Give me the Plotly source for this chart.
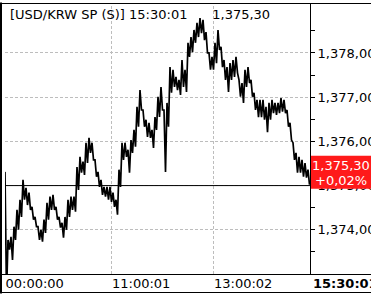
import plotly.graph_objects as go

# ---- data (USD/KRW spot, intraday) ----
# high / low of the price trace in each narrow time slice, left to right
col_high = [1375.31, 1373.77, 1373.84, 1374.07, 1374.45, 1374.68, 1375.13, 1374.95, 1374.84, 1374.52,
            1374.29, 1374.07, 1374.00, 1374.23, 1374.61, 1374.75, 1374.79, 1374.52, 1374.29, 1374.16,
            1374.29, 1374.68, 1374.75, 1374.75, 1375.42, 1375.65, 1375.54, 1375.97, 1376.08, 1375.97,
            1375.58, 1375.31, 1375.13, 1374.97, 1374.97, 1374.97, 1374.84, 1374.68, 1375.36, 1375.97,
            1375.97, 1375.81, 1376.03, 1376.26, 1376.78, 1377.16, 1376.71, 1376.49, 1376.42, 1376.26,
            1376.55, 1377.01, 1377.23, 1376.71, 1376.87, 1377.68, 1377.62, 1377.46, 1377.39, 1377.84,
            1377.62, 1378.23, 1378.36, 1378.52, 1378.68, 1378.79, 1378.75, 1378.47, 1378.00, 1377.91,
            1378.23, 1378.52, 1378.14, 1377.84, 1377.68, 1377.77, 1377.84, 1377.91, 1377.39, 1377.32,
            1377.62, 1377.68, 1377.39, 1377.10, 1376.94, 1376.94, 1376.94, 1376.78, 1376.87, 1376.94,
            1376.87, 1376.87, 1376.98, 1376.94, 1376.71, 1376.42, 1375.97, 1375.74, 1375.65, 1375.58,
            1375.51, 1375.36]
col_low = [1372.50, 1373.55, 1373.32, 1373.77, 1374.00, 1374.29, 1374.68, 1374.56, 1374.45, 1374.23,
           1374.07, 1373.77, 1373.73, 1373.93, 1374.23, 1374.45, 1374.45, 1374.23, 1374.05, 1373.82,
           1374.00, 1374.29, 1374.45, 1374.41, 1374.90, 1375.29, 1375.24, 1375.51, 1375.74, 1375.58,
           1375.20, 1374.97, 1374.79, 1374.75, 1374.68, 1374.63, 1374.52, 1374.34, 1374.97, 1375.58,
           1375.65, 1375.29, 1375.74, 1375.88, 1376.33, 1376.71, 1376.33, 1376.10, 1376.08, 1375.85,
           1376.26, 1376.55, 1376.71, 1375.31, 1376.33, 1377.10, 1377.23, 1377.16, 1377.05, 1377.23,
           1377.12, 1377.91, 1378.02, 1378.23, 1378.36, 1378.45, 1378.29, 1378.00, 1377.62, 1377.62,
           1377.77, 1378.07, 1377.68, 1377.39, 1377.12, 1377.39, 1377.46, 1377.55, 1377.01, 1376.87,
           1377.23, 1377.32, 1377.01, 1376.71, 1376.55, 1376.55, 1376.49, 1376.21, 1376.49, 1376.64,
           1376.60, 1376.64, 1376.67, 1376.64, 1376.33, 1376.03, 1375.58, 1375.29, 1375.29, 1375.20,
           1375.18, 1375.02]

prev_close = 1375.00
last_price = 1375.30
change_pct = 0.02
symbol = "[USD/KRW SP (S)]"
last_time = "15:30:01"
x_tick_index = [0, 71, 139]
x_tick_text = ["00:00:00", "11:00:01", "13:00:02"]
y_tick_vals = [1374, 1375, 1376, 1377, 1378]
y_minor_vals = [1373.5, 1374.5, 1375.5, 1376.5, 1377.5, 1378.5]
y_range = [1373.0, 1379.13]


def krw(v):
    return f"{v:,.2f}".replace(".", ",")


prices = []
for h, l in zip(col_high, col_low):
    prices += [h, l]
idx = list(range(len(prices)))

# ---- geometry ----
W, H = 371, 294
L, R, T, B = 5, 61, 3, 20
PW, PH = W - L - R, H - T - B


def px_x(px):
    return (px - L) / PW


def px_y(py):
    return (H - B - py) / PH


FONT = "DejaVu Sans"
GRID = "#bdbdbd"

fig = go.Figure()
fig.add_trace(go.Scatter(x=idx, y=prices, mode="lines",
                         line=dict(color="black", width=1.7),
                         hoverinfo="skip", showlegend=False))

shapes = []
# vertical dashed grid lines at the time ticks (not at the left edge)
for t in x_tick_index[1:]:
    shapes.append(dict(type="line", xref="x", yref="paper", x0=t, x1=t, y0=0, y1=1,
                       line=dict(color=GRID, width=1, dash="3px,2px"), layer="below"))
# previous close reference line
shapes.append(dict(type="line", xref="paper", yref="y", x0=0, x1=1, y0=prev_close, y1=prev_close,
                   line=dict(color="black", width=1)))
# frame lines
blk = dict(color="black", width=1)
shapes += [
    dict(type="line", xref="paper", yref="paper", x0=px_x(1), x1=px_x(1), y0=px_y(2.5), y1=px_y(293.5),
         line=dict(color="black", width=2)),
    dict(type="line", xref="paper", yref="paper", x0=px_x(0), x1=px_x(372), y0=px_y(3.5), y1=px_y(3.5), line=blk),
    dict(type="line", xref="paper", yref="paper", x0=px_x(0), x1=px_x(372), y0=px_y(274.5), y1=px_y(274.5), line=blk),
    dict(type="line", xref="paper", yref="paper", x0=px_x(0), x1=px_x(372), y0=px_y(292.5), y1=px_y(292.5), line=blk),
    dict(type="line", xref="paper", yref="paper", x0=px_x(310.5), x1=px_x(310.5), y0=px_y(3), y1=px_y(274.5), line=blk),
]
# red last-price box
shapes.append(dict(type="rect", xref="paper", yref="y", ysizemode="pixel", yanchor=last_price,
                   x0=px_x(311), x1=px_x(373), y0=-16.5, y1=16.5,
                   fillcolor="#ff1a1a", line=dict(width=0), layer="above"))

annotations = [
    dict(xref="paper", yref="paper", x=px_x(8), y=px_y(14.5), xanchor="left", yanchor="middle",
         text=f"{symbol} {last_time}" + "&nbsp;" * 6 + krw(last_price), showarrow=False,
         font=dict(family=FONT, size=13, color="black")),
    dict(xref="paper", yref="y", x=px_x(341), y=last_price, yshift=7, xanchor="center", yanchor="middle",
         text=krw(last_price), showarrow=False, font=dict(family=FONT, size=13, color="white")),
    dict(xref="paper", yref="y", x=px_x(341), y=last_price, yshift=-8, xanchor="center", yanchor="middle",
         text=("+" if change_pct >= 0 else "") + krw(change_pct) + "%", showarrow=False,
         font=dict(family=FONT, size=13, color="white")),
    dict(xref="paper", yref="paper", x=px_x(311), y=px_y(283), xanchor="left", yanchor="middle",
         text=f"<b>{last_time}</b>", showarrow=False, font=dict(family=FONT, size=13, color="black")),
]

fig.update_layout(
    width=W, height=H, margin=dict(l=L, r=R, t=T, b=B, pad=0),
    paper_bgcolor="white", plot_bgcolor="white",
    shapes=shapes, annotations=annotations, showlegend=False,
    xaxis=dict(range=[0, PW / 1.5], tickmode="array", tickvals=x_tick_index, ticktext=x_tick_text,
               ticks="outside", ticklen=0, tickcolor="rgba(0,0,0,0)", ticklabelposition="outside right",
               ticklabelstandoff=-3,
               showgrid=False, zeroline=False, showline=False, automargin=False,
               tickfont=dict(family=FONT, size=13, color="black"), fixedrange=True),
    yaxis=dict(side="right", range=y_range, tickmode="array", tickvals=y_tick_vals,
               ticktext=[krw(v) for v in y_tick_vals],
               ticks="outside", ticklen=4, tickcolor="black", tickwidth=1,
               showgrid=True, gridcolor=GRID, griddash="3px,2px", gridwidth=1,
               minor=dict(tickmode="array", tickvals=y_minor_vals, ticks="outside", ticklen=4,
                          tickcolor="black", showgrid=False),
               zeroline=False, showline=False, automargin=False,
               tickfont=dict(family=FONT, size=13, color="black"), fixedrange=True),
)

fig.write_html("out.html", config={"displayModeBar": False})
